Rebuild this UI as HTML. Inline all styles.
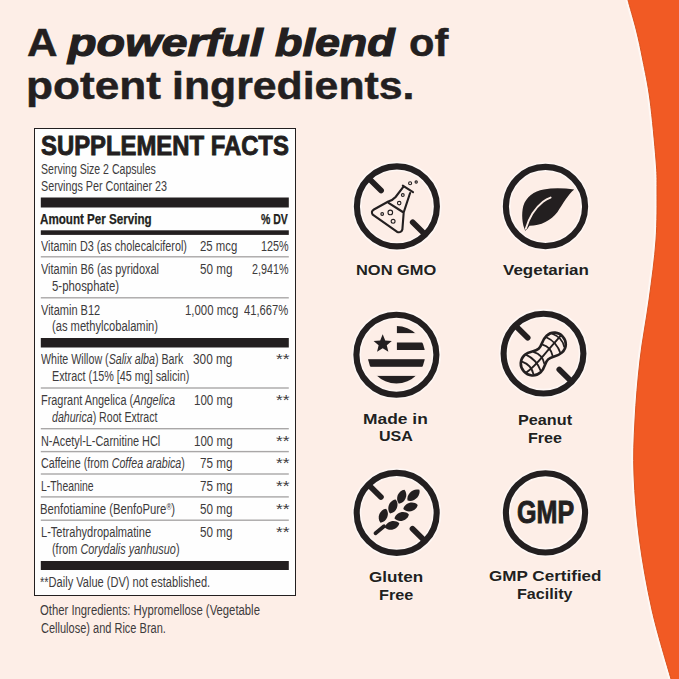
<!DOCTYPE html>
<html><head><meta charset="utf-8"><style>
html,body{margin:0;padding:0;}
body{width:679px;height:679px;overflow:hidden;position:relative;background:#fdeee7;font-family:"Liberation Sans",sans-serif;}
svg{position:absolute;left:0;top:0;}
.t{position:absolute;white-space:nowrap;line-height:1;transform-origin:0 0;}
.reg{font-size:60%;vertical-align:45%;}
.h{text-shadow:0 0 2px rgba(255,255,255,0.9);}
</style></head><body>
<svg width="679" height="679" viewBox="0 0 679 679">
<path d="M 628.0,-5.0 C 628.0,-4.2 626.6,-5.8 628.0,0.0 C 629.4,5.8 633.8,20.0 636.3,30.0 C 638.8,40.0 640.5,48.3 642.8,60.0 C 645.1,71.7 647.8,83.3 650.0,100.0 C 652.2,116.7 654.8,145.0 656.0,160.0 C 657.2,175.0 657.0,176.7 657.0,190.0 C 657.0,203.3 657.3,221.7 656.0,240.0 C 654.7,258.3 651.7,280.0 649.0,300.0 C 646.3,320.0 642.3,340.0 640.0,360.0 C 637.7,380.0 636.0,400.8 635.0,420.0 C 634.0,439.2 633.2,455.0 634.0,475.0 C 634.8,495.0 636.5,517.5 639.5,540.0 C 642.5,562.5 646.8,586.8 652.0,610.0 C 657.2,633.2 667.5,666.5 671.0,679.0 C 674.5,691.5 672.7,684.0 673.0,685.0 " fill="none" stroke="#ffffff" stroke-opacity="0.6" stroke-width="5"/>
<path d="M 628.0,-5.0 C 628.0,-4.2 626.6,-5.8 628.0,0.0 C 629.4,5.8 633.8,20.0 636.3,30.0 C 638.8,40.0 640.5,48.3 642.8,60.0 C 645.1,71.7 647.8,83.3 650.0,100.0 C 652.2,116.7 654.8,145.0 656.0,160.0 C 657.2,175.0 657.0,176.7 657.0,190.0 C 657.0,203.3 657.3,221.7 656.0,240.0 C 654.7,258.3 651.7,280.0 649.0,300.0 C 646.3,320.0 642.3,340.0 640.0,360.0 C 637.7,380.0 636.0,400.8 635.0,420.0 C 634.0,439.2 633.2,455.0 634.0,475.0 C 634.8,495.0 636.5,517.5 639.5,540.0 C 642.5,562.5 646.8,586.8 652.0,610.0 C 657.2,633.2 667.5,666.5 671.0,679.0 C 674.5,691.5 672.7,684.0 673.0,685.0 L 690,685 L 690,-5 Z" fill="#f15a24"/>
<path d="M 628.0,-5.0 C 628.0,-4.2 626.6,-5.8 628.0,0.0 C 629.4,5.8 633.8,20.0 636.3,30.0 C 638.8,40.0 640.5,48.3 642.8,60.0 C 645.1,71.7 647.8,83.3 650.0,100.0 C 652.2,116.7 654.8,145.0 656.0,160.0 C 657.2,175.0 657.0,176.7 657.0,190.0 C 657.0,203.3 657.3,221.7 656.0,240.0 C 654.7,258.3 651.7,280.0 649.0,300.0 C 646.3,320.0 642.3,340.0 640.0,360.0 C 637.7,380.0 636.0,400.8 635.0,420.0 C 634.0,439.2 633.2,455.0 634.0,475.0 C 634.8,495.0 636.5,517.5 639.5,540.0 C 642.5,562.5 646.8,586.8 652.0,610.0 C 657.2,633.2 667.5,666.5 671.0,679.0 C 674.5,691.5 672.7,684.0 673.0,685.0 " fill="none" stroke="#d9531f" stroke-width="1"/>
<rect x="34.5" y="128.5" width="261" height="467" fill="#fefefe" stroke="#231f20" stroke-width="1"/>
<rect x="40.8" y="197.5" width="248" height="10" fill="#231f20"/>
<rect x="40.8" y="230.3" width="248" height="4.6" fill="#231f20"/>
<rect x="40.8" y="338" width="248" height="9.5" fill="#231f20"/>
<rect x="40.8" y="561" width="248" height="9" fill="#231f20"/>
<rect x="40.8" y="256.1" width="248" height="1.4" fill="#a9a7a7"/>
<rect x="40.8" y="297.1" width="248" height="1.4" fill="#a9a7a7"/>
<rect x="40.8" y="387.3" width="248" height="1.4" fill="#a9a7a7"/>
<rect x="40.8" y="428.0" width="248" height="1.4" fill="#a9a7a7"/>
<rect x="40.8" y="450.9" width="248" height="1.4" fill="#a9a7a7"/>
<rect x="40.8" y="473.3" width="248" height="1.4" fill="#a9a7a7"/>
<rect x="40.8" y="496.2" width="248" height="1.4" fill="#a9a7a7"/>
<rect x="40.8" y="519.5" width="248" height="1.4" fill="#a9a7a7"/>
<circle cx="396.9" cy="206.4" r="40" fill="none" stroke="#ffffff" stroke-opacity="0.55" stroke-width="9.3"/>
<circle cx="396.9" cy="206.4" r="40" fill="none" stroke="#231f20" stroke-width="6.1"/>
<line x1="381.1" y1="190.6" x2="369.7" y2="179.2" stroke="#231f20" stroke-width="5.7" stroke-linecap="round"/>
<line x1="412.7" y1="222.2" x2="424.1" y2="233.6" stroke="#231f20" stroke-width="5.7" stroke-linecap="round"/>
<g fill="none" stroke="#231f20" stroke-width="2.1" stroke-linejoin="round" stroke-linecap="round">
<line x1="402.8" y1="185.7" x2="413.0" y2="192.2"/>
<path d="M 403.3,186.9 L 395.6,197.0 Q 393,200 388.3,201.5 L 373.9,209.5 Q 370.6,211.6 372.7,214.7 L 397.2,231.9 Q 401.2,233.2 402.4,229.4 L 403.7,212.4 L 410.1,193.0"/>
<line x1="388.5" y1="202.8" x2="402.8" y2="212.0"/>
<circle cx="402.8" cy="195.0" r="1.4" stroke-width="1.1"/>
<circle cx="399.2" cy="203.1" r="1.75" stroke-width="1.1"/>
<circle cx="390.3" cy="212.4" r="2.3" stroke-width="1.1"/>
<circle cx="382.2" cy="214.0" r="1.35" stroke-width="1.1"/>
<circle cx="393.1" cy="221.3" r="1.95" stroke-width="1.1"/>
<circle cx="410.1" cy="183.2" r="1.5" stroke-width="1.1"/>
<circle cx="416.2" cy="182.0" r="1.15" stroke-width="1.1"/>
</g>
<circle cx="545.5" cy="206.5" r="39.6" fill="none" stroke="#ffffff" stroke-opacity="0.55" stroke-width="9.3"/>
<circle cx="545.5" cy="206.5" r="39.6" fill="none" stroke="#231f20" stroke-width="6.1"/>
<path d="M 525.3,230.8 C 522,224 521.3,214 523.3,206 C 526,197 534,191 543.7,189.4 C 553,187.8 564,188 574.2,189.6 C 568,194.5 563,204 557.5,212 C 551,220.5 541,225.8 529.5,225.8 C 528.5,227.5 527,229.5 525.3,230.8 Z" fill="#231f20"/>
<path d="M 525.8,228.8 C 528.5,219.5 534.5,208.5 543,201.8 C 545.5,199.8 548,198.5 550.6,197.6" fill="none" stroke="#fdeee7" stroke-width="1.9" stroke-linecap="round"/>
<circle cx="396.4" cy="354.7" r="40" fill="none" stroke="#ffffff" stroke-opacity="0.55" stroke-width="9.3"/>
<circle cx="396.4" cy="354.7" r="40" fill="none" stroke="#231f20" stroke-width="6.1"/>
<defs><clipPath id="fl"><circle cx="396.4" cy="354.7" r="28.7"/></clipPath></defs>
<g clip-path="url(#fl)" fill="#231f20">
<rect x="396.9" y="325.6" width="40" height="7.5"/>
<rect x="396.9" y="342.5" width="40" height="7.5"/>
<rect x="360" y="359.2" width="80" height="7.6"/>
<rect x="360" y="375.9" width="80" height="10"/>
</g>
<polygon points="382.70,334.30 385.23,340.42 391.83,340.93 386.79,345.23 388.34,351.67 382.70,348.20 377.06,351.67 378.61,345.23 373.57,340.93 380.17,340.42" fill="#231f20"/>
<circle cx="543.5" cy="353.6" r="39.9" fill="none" stroke="#ffffff" stroke-opacity="0.55" stroke-width="9.3"/>
<circle cx="543.5" cy="353.6" r="39.9" fill="none" stroke="#231f20" stroke-width="6.1"/>
<line x1="527.7" y1="337.8" x2="516.3" y2="326.4" stroke="#231f20" stroke-width="5.7" stroke-linecap="round"/>
<line x1="559.3" y1="369.4" x2="570.7" y2="380.8" stroke="#231f20" stroke-width="5.7" stroke-linecap="round"/>
<g transform="translate(543.3,354.0) rotate(-42) scale(0.95)" fill="none" stroke="#231f20" stroke-width="2.5" stroke-linejoin="round" stroke-linecap="round">
<path d="M -15,-12.3 C -22.5,-12.3 -27.5,-6.8 -27.5,0 C -27.5,6.8 -22.5,12.5 -15,12.5 C -8.5,12.5 -5.5,7.6 0,7.6 C 5.5,7.6 8.5,12 15.5,12 C 23,12 27.5,6.3 27.5,0 C 27.5,-6.3 23,-12 15.5,-12 C 8.5,-12 5.5,-7.4 0,-7.4 C -5.5,-7.4 -8.5,-12.3 -15,-12.3 Z" stroke-width="2.8"/>
<path d="M -26.5,2.5 C -18,3.5 -9,2.5 0,1.2 C 9,0 18,-1 26.5,-2" stroke-width="2"/>
<path d="M -22,-9 Q -17,0 -22,9" stroke-width="1.9"/>
<path d="M -14,-11.8 Q -9,0 -14,11.8" stroke-width="1.9"/>
<path d="M -6,-8.2 Q -1,0 -6,8.2" stroke-width="1.9"/>
<path d="M 6,-8 Q 11,0 6,8" stroke-width="1.9"/>
<path d="M 14,-11.5 Q 19,0 14,11.5" stroke-width="1.9"/>
<path d="M 21.5,-9 Q 26.5,0 21.5,9" stroke-width="1.9"/>
</g>
<circle cx="396.7" cy="512.9" r="40" fill="none" stroke="#ffffff" stroke-opacity="0.55" stroke-width="9.3"/>
<circle cx="396.7" cy="512.9" r="40" fill="none" stroke="#231f20" stroke-width="6.1"/>
<line x1="380.9" y1="497.1" x2="369.5" y2="485.7" stroke="#231f20" stroke-width="5.7" stroke-linecap="round"/>
<line x1="412.5" y1="528.7" x2="423.9" y2="540.1" stroke="#231f20" stroke-width="5.7" stroke-linecap="round"/>
<line x1="375.5" y1="533.2" x2="384" y2="526.2" stroke="#231f20" stroke-width="3.8" stroke-linecap="round"/>
<path transform="translate(413.5,495.2) rotate(-42)" d="M -8.0,0 C -4.848484848484849,-5.793103448275862 4.848484848484849,-5.793103448275862 8.0,0 C 4.848484848484849,5.793103448275862 -4.848484848484849,5.793103448275862 -8.0,0 Z" fill="#231f20"/>
<path transform="translate(401.7,496.7) rotate(-68)" d="M -7.5,0 C -4.545454545454546,-5.655172413793103 4.545454545454546,-5.655172413793103 7.5,0 C 4.545454545454546,5.655172413793103 -4.545454545454546,5.655172413793103 -7.5,0 Z" fill="#231f20"/>
<path transform="translate(392.9,506.5) rotate(-68)" d="M -7.5,0 C -4.545454545454546,-5.655172413793103 4.545454545454546,-5.655172413793103 7.5,0 C 4.545454545454546,5.655172413793103 -4.545454545454546,5.655172413793103 -7.5,0 Z" fill="#231f20"/>
<path transform="translate(383.3,515.8) rotate(-68)" d="M -7.5,0 C -4.545454545454546,-5.655172413793103 4.545454545454546,-5.655172413793103 7.5,0 C 4.545454545454546,5.655172413793103 -4.545454545454546,5.655172413793103 -7.5,0 Z" fill="#231f20"/>
<path transform="translate(410.5,507.0) rotate(-16)" d="M -7.5,0 C -4.545454545454546,-5.655172413793103 4.545454545454546,-5.655172413793103 7.5,0 C 4.545454545454546,5.655172413793103 -4.545454545454546,5.655172413793103 -7.5,0 Z" fill="#231f20"/>
<path transform="translate(401.7,516.5) rotate(-16)" d="M -7.5,0 C -4.545454545454546,-5.655172413793103 4.545454545454546,-5.655172413793103 7.5,0 C 4.545454545454546,5.655172413793103 -4.545454545454546,5.655172413793103 -7.5,0 Z" fill="#231f20"/>
<path transform="translate(392.1,525.4) rotate(-16)" d="M -7.5,0 C -4.545454545454546,-5.655172413793103 4.545454545454546,-5.655172413793103 7.5,0 C 4.545454545454546,5.655172413793103 -4.545454545454546,5.655172413793103 -7.5,0 Z" fill="#231f20"/>
<circle cx="545.5" cy="512.9" r="39.6" fill="none" stroke="#ffffff" stroke-opacity="0.55" stroke-width="9.3"/>
<circle cx="545.5" cy="512.9" r="39.6" fill="none" stroke="#231f20" stroke-width="6.1"/>
</svg>
<div class="t h" style="left:27.43px;top:22.76px;font-size:39.5px;font-weight:700;color:#231f20;-webkit-text-stroke:0.5px #231f20;transform:scaleX(1.0704)">A</div>
<div class="t h" style="left:67.68px;top:22.76px;font-size:39.5px;font-weight:700;color:#231f20;-webkit-text-stroke:1.2px #231f20;transform:scaleX(1.1838)"><i>powerful</i></div>
<div class="t h" style="left:275.40px;top:22.76px;font-size:39.5px;font-weight:700;color:#231f20;-webkit-text-stroke:1.2px #231f20;transform:scaleX(1.1364)"><i>blend</i></div>
<div class="t h" style="left:409.45px;top:22.76px;font-size:39.5px;font-weight:700;color:#231f20;-webkit-text-stroke:0.5px #231f20;transform:scaleX(1.0541)">of</div>
<div class="t h" style="left:25.76px;top:65.86px;font-size:39.5px;font-weight:700;color:#231f20;-webkit-text-stroke:0.5px #231f20;transform:scaleX(1.1186)">potent</div>
<div class="t h" style="left:171.55px;top:65.86px;font-size:39.5px;font-weight:700;color:#231f20;-webkit-text-stroke:0.5px #231f20;transform:scaleX(1.0831)">ingredients.</div>
<div class="t" style="left:40.62px;top:132.74px;font-size:27px;font-weight:700;color:#231f20;-webkit-text-stroke:0.9px #231f20;transform:scaleX(0.8835)">SUPPLEMENT FACTS</div>
<div class="t" style="left:40.75px;top:162.15px;font-size:14px;font-weight:400;color:#3d3b3c;transform:scaleX(0.7530)">Serving Size 2 Capsules</div>
<div class="t" style="left:40.73px;top:179.45px;font-size:14px;font-weight:400;color:#3d3b3c;transform:scaleX(0.7675)">Servings Per Container 23</div>
<div class="t" style="left:40.47px;top:212.15px;font-size:14px;font-weight:700;color:#231f20;-webkit-text-stroke:0.25px #231f20;transform:scaleX(0.8301)">Amount Per Serving</div>
<div class="t" style="left:261.20px;top:212.15px;font-size:14px;font-weight:700;color:#231f20;-webkit-text-stroke:0.25px #231f20;transform:scaleX(0.7500)">% DV</div>
<div class="t" style="left:41.30px;top:238.65px;font-size:14px;font-weight:400;color:#3d3b3c;transform:scaleX(0.7729)">Vitamin D3 (as cholecalciferol)</div>
<div class="t" style="left:41.30px;top:262.35px;font-size:14px;font-weight:400;color:#3d3b3c;transform:scaleX(0.7833)">Vitamin B6 (as pyridoxal</div>
<div class="t" style="left:52.29px;top:278.75px;font-size:14px;font-weight:400;color:#3d3b3c;transform:scaleX(0.8137)">5-phosphate)</div>
<div class="t" style="left:41.30px;top:302.65px;font-size:14px;font-weight:400;color:#3d3b3c;transform:scaleX(0.7867)">Vitamin B12</div>
<div class="t" style="left:52.30px;top:319.35px;font-size:14px;font-weight:400;color:#3d3b3c;transform:scaleX(0.7969)">(as methylcobalamin)</div>
<div class="t" style="left:41.30px;top:352.45px;font-size:14px;font-weight:400;color:#3d3b3c;transform:scaleX(0.7629)">White Willow (<i>Salix alba</i>) Bark</div>
<div class="t" style="left:52.33px;top:369.15px;font-size:14px;font-weight:400;color:#3d3b3c;transform:scaleX(0.7705)">Extract (15% [45 mg] salicin)</div>
<div class="t" style="left:40.52px;top:392.85px;font-size:14px;font-weight:400;color:#3d3b3c;transform:scaleX(0.7794)">Fragrant Angelica (<i>Angelica</i></div>
<div class="t" style="left:52.34px;top:409.55px;font-size:14px;font-weight:400;color:#3d3b3c;transform:scaleX(0.7565)"><i>dahurica</i>) Root Extract</div>
<div class="t" style="left:40.52px;top:434.05px;font-size:14px;font-weight:400;color:#3d3b3c;transform:scaleX(0.7781)">N-Acetyl-L-Carnitine HCl</div>
<div class="t" style="left:40.53px;top:456.45px;font-size:14px;font-weight:400;color:#3d3b3c;transform:scaleX(0.7651)">Caffeine (from <i>Coffea arabica</i>)</div>
<div class="t" style="left:40.56px;top:479.05px;font-size:14px;font-weight:400;color:#3d3b3c;transform:scaleX(0.7435)">L-Theanine</div>
<div class="t" style="left:40.49px;top:501.85px;font-size:14px;font-weight:400;color:#3d3b3c;transform:scaleX(0.8079)">Benfotiamine (BenfoPure<span class="reg">®</span>)</div>
<div class="t" style="left:40.51px;top:524.75px;font-size:14px;font-weight:400;color:#3d3b3c;transform:scaleX(0.7899)">L-Tetrahydropalmatine</div>
<div class="t" style="left:52.32px;top:542.35px;font-size:14px;font-weight:400;color:#3d3b3c;transform:scaleX(0.7765)">(from <i>Corydalis yanhusuo</i>)</div>
<div class="t" style="left:40.11px;top:574.95px;font-size:14px;font-weight:400;color:#3d3b3c;transform:scaleX(0.7901)">**Daily Value (DV) not established.</div>
<div class="t" style="left:40.49px;top:603.15px;font-size:14px;font-weight:400;color:#3d3b3c;transform:scaleX(0.8074)">Other Ingredients: Hypromellose (Vegetable</div>
<div class="t" style="left:40.51px;top:620.65px;font-size:14px;font-weight:400;color:#3d3b3c;transform:scaleX(0.7865)">Cellulose) and Rice Bran.</div>
<div class="t" style="left:200.49px;top:238.65px;font-size:14px;font-weight:400;color:#3d3b3c;transform:scaleX(0.8114)">25 mcg</div>
<div class="t" style="left:200.46px;top:262.35px;font-size:14px;font-weight:400;color:#3d3b3c;transform:scaleX(0.8351)">50 mg</div>
<div class="t" style="left:184.89px;top:302.65px;font-size:14px;font-weight:400;color:#3d3b3c;transform:scaleX(0.8143)">1,000 mcg</div>
<div class="t" style="left:193.36px;top:352.45px;font-size:14px;font-weight:400;color:#3d3b3c;transform:scaleX(0.8444)">300 mg</div>
<div class="t" style="left:194.17px;top:392.85px;font-size:14px;font-weight:400;color:#3d3b3c;transform:scaleX(0.8267)">100 mg</div>
<div class="t" style="left:194.17px;top:434.05px;font-size:14px;font-weight:400;color:#3d3b3c;transform:scaleX(0.8267)">100 mg</div>
<div class="t" style="left:200.46px;top:456.45px;font-size:14px;font-weight:400;color:#3d3b3c;transform:scaleX(0.8351)">75 mg</div>
<div class="t" style="left:200.46px;top:479.05px;font-size:14px;font-weight:400;color:#3d3b3c;transform:scaleX(0.8351)">75 mg</div>
<div class="t" style="left:200.46px;top:501.85px;font-size:14px;font-weight:400;color:#3d3b3c;transform:scaleX(0.8351)">50 mg</div>
<div class="t" style="left:200.46px;top:524.75px;font-size:14px;font-weight:400;color:#3d3b3c;transform:scaleX(0.8351)">50 mg</div>
<div class="t" style="left:261.23px;top:238.65px;font-size:14px;font-weight:400;color:#3d3b3c;transform:scaleX(0.7706)">125%</div>
<div class="t" style="left:252.13px;top:262.35px;font-size:14px;font-weight:400;color:#3d3b3c;transform:scaleX(0.7674)">2,941%</div>
<div class="t" style="left:244.10px;top:302.65px;font-size:14px;font-weight:400;color:#3d3b3c;transform:scaleX(0.8019)">41,667%</div>
<div class="t" style="left:275.76px;top:352.45px;font-size:14px;font-weight:400;color:#3d3b3c;transform:scaleX(1.2444)">**</div>
<div class="t" style="left:275.76px;top:392.85px;font-size:14px;font-weight:400;color:#3d3b3c;transform:scaleX(1.2444)">**</div>
<div class="t" style="left:275.76px;top:434.05px;font-size:14px;font-weight:400;color:#3d3b3c;transform:scaleX(1.2444)">**</div>
<div class="t" style="left:275.76px;top:456.45px;font-size:14px;font-weight:400;color:#3d3b3c;transform:scaleX(1.2444)">**</div>
<div class="t" style="left:275.76px;top:479.05px;font-size:14px;font-weight:400;color:#3d3b3c;transform:scaleX(1.2444)">**</div>
<div class="t" style="left:275.76px;top:501.85px;font-size:14px;font-weight:400;color:#3d3b3c;transform:scaleX(1.2444)">**</div>
<div class="t" style="left:275.76px;top:524.75px;font-size:14px;font-weight:400;color:#3d3b3c;transform:scaleX(1.2444)">**</div>
<div class="t h" style="left:355.66px;top:263.01px;font-size:14.4px;font-weight:700;color:#231f20;transform:scaleX(1.1420)">NON GMO</div>
<div class="t h" style="left:503.10px;top:263.41px;font-size:14.4px;font-weight:700;color:#231f20;transform:scaleX(1.1806)">Vegetarian</div>
<div class="t h" style="left:363.39px;top:411.71px;font-size:14.4px;font-weight:700;color:#231f20;transform:scaleX(1.2096)">Made in</div>
<div class="t h" style="left:379.18px;top:429.31px;font-size:14.4px;font-weight:700;color:#231f20;transform:scaleX(1.1172)">USA</div>
<div class="t h" style="left:518.17px;top:412.51px;font-size:14.4px;font-weight:700;color:#231f20;transform:scaleX(1.1277)">Peanut</div>
<div class="t h" style="left:528.48px;top:431.21px;font-size:14.4px;font-weight:700;color:#231f20;transform:scaleX(1.1172)">Free</div>
<div class="t h" style="left:368.81px;top:569.91px;font-size:14.4px;font-weight:700;color:#231f20;transform:scaleX(1.1886)">Gluten</div>
<div class="t h" style="left:379.17px;top:588.31px;font-size:14.4px;font-weight:700;color:#231f20;transform:scaleX(1.1276)">Free</div>
<div class="t h" style="left:489.11px;top:569.41px;font-size:14.4px;font-weight:700;color:#231f20;transform:scaleX(1.1860)">GMP Certified</div>
<div class="t h" style="left:516.98px;top:587.01px;font-size:14.4px;font-weight:700;color:#231f20;transform:scaleX(1.1187)">Facility</div>
<div class="t h" style="left:517.01px;top:496.98px;font-size:31.8px;font-weight:700;color:#231f20;-webkit-text-stroke:0.9px #231f20;transform:scaleX(0.7887)">GMP</div>
</body></html>
